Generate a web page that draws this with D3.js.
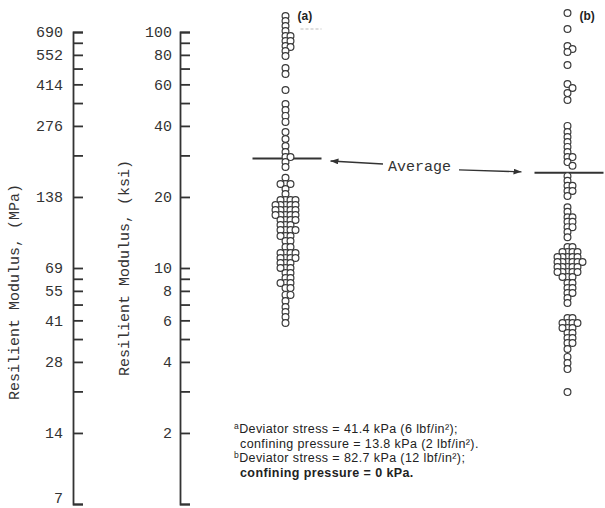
<!DOCTYPE html>
<html>
<head>
<meta charset="utf-8">
<script src="https://cdn.jsdelivr.net/npm/d3@7"></script>
<style>
  body { margin: 0; background: #fff; }
  svg { display: block; }
</style>
</head>
<body>
<div id="chart"></div>
<script>
const width = 605;
const height = 508;

// Test conditions (a) and (b)
const groups = ["a", "b"];

// Resilient modulus of each specimen, ksi
const modulusA = [
  116.9, 111.3, 106.0, 101.0, 96.2, 96.2, 91.6, 91.6, 87.2, 86.4, 83.1, 79.1,
  70.4, 66.4, 56.8, 49.5, 46.7, 44.1, 41.6, 37.7, 35.2,
  32.9, 31.0, 29.5, 29.5, 28.1, 26.8,
  24.1, 22.7, 22.7, 22.7, 21.6, 20.6,
  19.42, 19.42, 19.42, 19.42,
  18.49, 18.49, 18.49, 18.49, 18.49,
  17.61, 17.61, 17.61, 17.61, 17.61,
  16.77, 16.77, 16.77, 16.77, 16.77,
  15.97, 15.97, 15.97, 15.97,
  15.21, 15.21, 15.21,
  14.49, 14.49, 14.49, 14.49,
  13.66, 13.66, 13.66, 13.02, 13.02, 12.28, 12.28,
  11.58, 11.58, 11.58, 11.58, 11.03, 11.03, 11.03, 11.03,
  10.50, 10.50, 10.50, 10.0, 10.0, 10.0, 9.52, 9.52, 9.07, 9.07,
  8.64, 8.64, 8.64, 8.23, 8.23, 7.69, 7.69, 7.25, 6.83, 6.51, 6.20, 5.85
];
const modulusB = [
  120.4, 103.0, 87.2, 84.7, 82.3, 72.5, 60.2, 57.9, 55.1, 51.5,
  40.0, 37.7, 35.9, 34.2, 32.6, 31.0, 29.5, 29.5, 28.1, 27.1,
  24.5, 23.4, 22.3, 22.3, 21.2, 21.2, 20.2,
  18.1, 17.3, 16.4, 16.4, 15.7, 15.7, 14.9, 14.9, 14.2, 13.5,
  12.28, 12.28, 11.69, 11.69, 11.69, 11.69,
  11.13, 11.13, 11.13, 11.13, 11.13,
  10.60, 10.60, 10.60, 10.60, 10.60, 10.60,
  10.10, 10.10, 10.10, 10.10, 10.10,
  9.62, 9.62, 9.62, 9.62, 9.62, 9.16, 9.16, 9.16,
  8.64, 8.64, 8.23, 8.23, 7.84, 7.84, 7.46, 7.11,
  6.14, 6.14, 5.85, 5.85, 5.85, 5.85, 5.57, 5.57, 5.57,
  5.30, 5.30, 5.05, 5.05, 4.81, 4.81, 4.54,
  4.20, 3.96, 3.73, 2.98
];

// Average of each group, ksi
const averages = [29.1, 25.3];

// Axis ticks (positions in ksi)
const ksiTicks = [1, 2, 3, 4, 5, 6, 7, 8, 9, 10, 20, 30, 40, 50, 60, 70, 80, 90, 100];
const ksiLabelled = [2, 4, 6, 8, 10, 20, 40, 60, 80, 100];
const mpaAt = [1, 2, 4, 6, 8, 10, 20, 40, 60, 80, 100];
const mpaLabels = ["7", "14", "28", "41", "55", "69", "138", "276", "414", "552", "690"];

const monoFont = "'Liberation Mono', 'DejaVu Sans Mono', monospace";
const sansFont = "'Liberation Sans', Arial, sans-serif";
const ink = "#333";

const svg = d3.select("#chart")
    .append("svg")
    .attr("width", width)
    .attr("height", height);

const y = d3.scaleLog()
    .domain([1, 100])
    .range([504, 32]);

const x = d3.scalePoint()
    .domain(groups)
    .range([285.5, 567.5]);

// Left axis in MPa, right axis in ksi, both ticked to the right
function styleAxis(g) {
    g.selectAll(".domain, .tick line")
        .attr("stroke", ink)
        .attr("stroke-width", 1.8);
    g.selectAll("text")
        .attr("fill", ink)
        .style("font-family", monoFont)
        .style("font-size", "15px");
}

const mpaAxis = svg.append("g")
    .attr("transform", "translate(73,0)")
    .call(d3.axisLeft(y)
        .tickValues(ksiTicks)
        .tickSizeInner(-10)
        .tickSizeOuter(-10)
        .tickPadding(10)
        .tickFormat(d => {
            const i = mpaAt.indexOf(d);
            return i < 0 ? "" : mpaLabels[i];
        }))
    .call(styleAxis);

// bottom label sits a little above its tick, as in the original
mpaAxis.selectAll(".tick text")
    .filter(d => d === 1)
    .attr("dy", "-0.1em");

svg.append("g")
    .attr("transform", "translate(180,0)")
    .call(d3.axisLeft(y)
        .tickValues(ksiTicks)
        .tickSizeInner(-10)
        .tickSizeOuter(-10)
        .tickPadding(8)
        .tickFormat(d => ksiLabelled.includes(d) ? String(d) : ""))
    .call(styleAxis);

// Axis titles
svg.append("text")
    .attr("transform", "translate(15,292) rotate(-90)")
    .attr("text-anchor", "middle")
    .attr("dominant-baseline", "central")
    .attr("fill", ink)
    .style("font-family", monoFont)
    .style("font-size", "15px")
    .text("Resilient Modulus, (MPa)");

svg.append("text")
    .attr("transform", "translate(125,268) rotate(-90)")
    .attr("text-anchor", "middle")
    .attr("dominant-baseline", "central")
    .attr("fill", ink)
    .style("font-family", monoFont)
    .style("font-size", "15px")
    .text("Resilient Modulus, (ksi)");

// Simple swarm: each point keeps its value, slides sideways until it fits
function swarm(values, step, minDist) {
    const placed = [];
    values.slice().sort((p, q) => q - p).forEach(v => {
        const py = y(v);
        for (let i = 0; ; i++) {
            const dx = i === 0 ? 0 : (i % 2 ? 1 : -1) * Math.ceil(i / 2) * step;
            if (placed.every(p => Math.hypot(p.dx - dx, p.py - py) >= minDist)) {
                placed.push({ v, dx, py });
                break;
            }
        }
    });
    return placed;
}

const series = [modulusA, modulusB];

// Average lines
svg.selectAll(".avg")
    .data(averages)
    .enter()
    .append("line")
    .attr("class", "avg")
    .attr("x1", (d, i) => x(groups[i]) - 33)
    .attr("x2", (d, i) => x(groups[i]) + 36)
    .attr("y1", d => y(d))
    .attr("y2", d => y(d))
    .attr("stroke", ink)
    .attr("stroke-width", 2);

series.forEach((vals, i) => {
    svg.append("g")
        .selectAll("circle")
        .data(swarm(vals, 5, 4.0))
        .enter()
        .append("circle")
        .attr("cx", d => x(groups[i]) + d.dx)
        .attr("cy", d => y(d.v))
        .attr("r", 3.4)
        .attr("fill", "#fff")
        .attr("stroke", "#3a3a3a")
        .attr("stroke-width", 1.2);
});

// Group labels
svg.selectAll(".grp")
    .data(groups)
    .enter()
    .append("text")
    .attr("class", "grp")
    .attr("x", d => x(d) + 12)
    .attr("y", 20)
    .attr("fill", "#222")
    .style("font-family", sansFont)
    .style("font-weight", "bold")
    .style("font-size", "12px")
    .text(d => `(${d})`);

svg.append("line")
    .attr("x1", x("a") + 15).attr("x2", x("a") + 36)
    .attr("y1", 29).attr("y2", 29)
    .attr("stroke", "#bbb")
    .attr("stroke-dasharray", "3,2");

// "Average" callout
svg.append("defs").append("marker")
    .attr("id", "head")
    .attr("viewBox", "0 0 8 6")
    .attr("refX", 8).attr("refY", 3)
    .attr("markerWidth", 8).attr("markerHeight", 6)
    .attr("markerUnits", "userSpaceOnUse")
    .attr("orient", "auto")
    .append("path")
    .attr("d", "M0,0L8,3L0,6Z")
    .attr("fill", ink);

svg.append("line")
    .attr("x1", 383).attr("y1", y(averages[0]) + 5.5)
    .attr("x2", x("a") + 45).attr("y2", y(averages[0]) + 2.5)
    .attr("stroke", ink).attr("stroke-width", 1.3)
    .attr("marker-end", "url(#head)");

svg.append("line")
    .attr("x1", 459).attr("y1", y(averages[1]) - 3)
    .attr("x2", x("b") - 46).attr("y2", y(averages[1]) - 1)
    .attr("stroke", ink).attr("stroke-width", 1.3)
    .attr("marker-end", "url(#head)");

svg.append("text")
    .attr("x", 388)
    .attr("y", 171)
    .attr("fill", ink)
    .style("font-family", monoFont)
    .style("font-size", "15px")
    .text("Average");

// Footnotes
const notes = [
    { sup: "a", text: "Deviator stress = 41.4 kPa (6 lbf/in²);", y: 433, bold: false },
    { sup: "", text: "confining pressure = 13.8 kPa (2 lbf/in²).", y: 448, bold: false },
    { sup: "b", text: "Deviator stress = 82.7 kPa (12 lbf/in²);", y: 462, bold: false },
    { sup: "", text: "confining pressure = 0 kPa.", y: 477, bold: true }
];

const noteText = svg.selectAll(".note")
    .data(notes)
    .enter()
    .append("text")
    .attr("class", "note")
    .attr("x", d => d.sup ? 234 : 240)
    .attr("y", d => d.y)
    .attr("fill", "#222")
    .style("font-family", sansFont)
    .style("font-size", "12.5px")
    .style("letter-spacing", "0.4px")
    .style("font-weight", d => d.bold ? "bold" : "normal");

noteText.filter(d => d.sup)
    .append("tspan")
    .attr("dy", -4)
    .style("font-size", "8.5px")
    .text(d => d.sup);

noteText.append("tspan")
    .attr("dy", d => d.sup ? 4 : 0)
    .text(d => d.text);
</script>
</body>
</html>
